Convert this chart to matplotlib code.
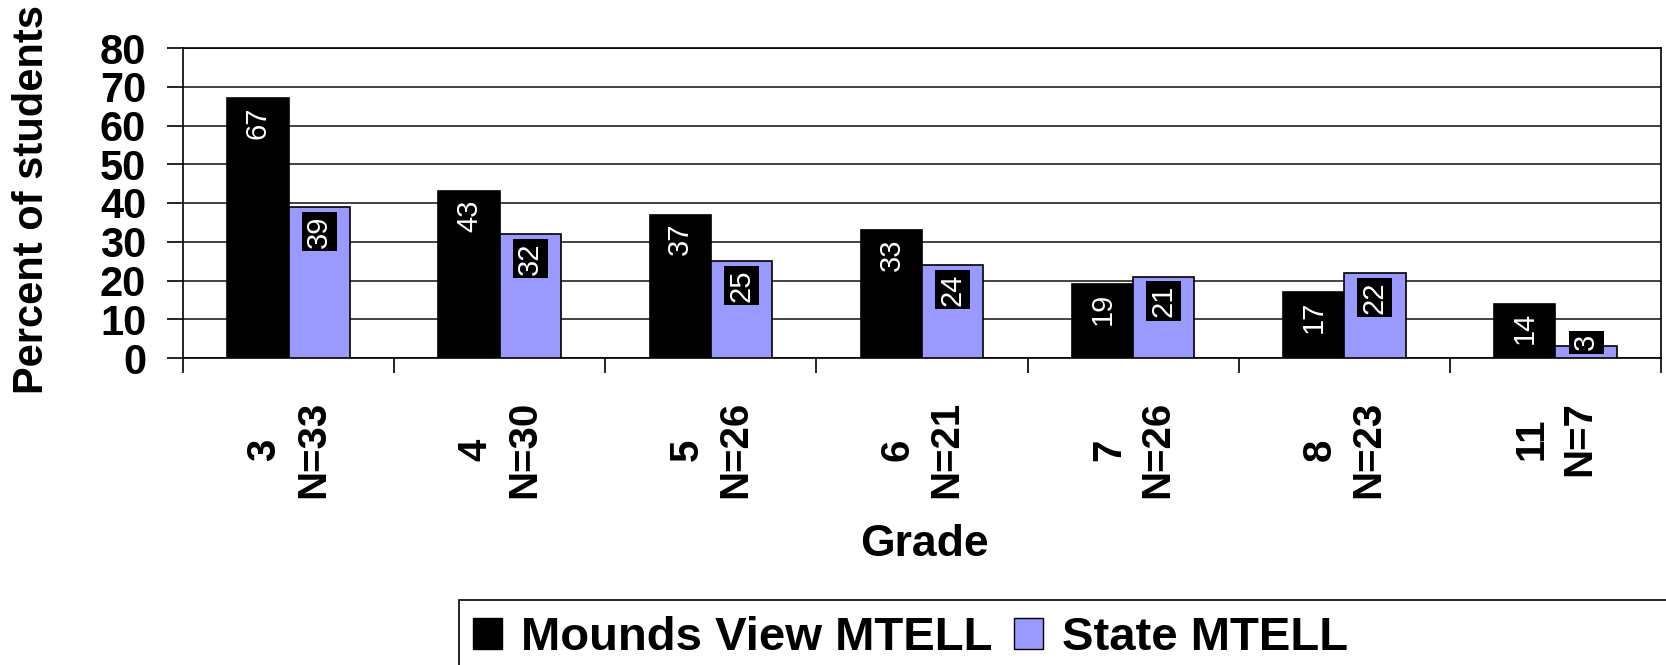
import numpy as np
import matplotlib
matplotlib.use('Agg')
import matplotlib.pyplot as plt
from matplotlib.patches import Patch, Rectangle

grades = ['3', '4', '5', '6', '7', '8', '11']
n_students = [33, 30, 26, 21, 26, 23, 7]
mounds_view = [67, 43, 37, 33, 19, 17, 14]
state = [39, 32, 25, 24, 21, 22, 3]

plt.rcParams['font.family'] = ['Liberation Sans', 'DejaVu Sans']

W, H = 1666, 665
fig = plt.figure(figsize=(W / 100, H / 100), dpi=100)
ax = fig.add_axes([183 / W, 1 - 358 / H, (1661 - 183) / W, (358 - 48) / H])

x = np.arange(len(grades))
w = 0.29
ax.bar(x - w / 2, mounds_view, w, color='black', edgecolor='black', lw=1.2, zorder=3)
ax.bar(x + w / 2, state, w, color='#9999ff', edgecolor='black', lw=1.2, zorder=3)

# value labels, white, rotated, inside the top of each bar
for xi, v in zip(x, mounds_view):
    ax.annotate(str(v), (xi - w / 2, max(v, 8.3)), xytext=(0, -6), textcoords='offset points',
                rotation=90, ha='center', va='top', color='white', fontsize=21, zorder=4)
for xi, v in zip(x, state):
    ax.annotate(str(v), (xi + w / 2, max(v, 8.3)), xytext=(0, -6), textcoords='offset points',
                rotation=90, ha='center', va='top', color='white', fontsize=21, zorder=4,
                bbox=dict(boxstyle='square,pad=0.12', fc='black', ec='none'))

ax.set_xlim(-0.5, len(grades) - 0.5)
ax.set_ylim(0, 80)
ax.set_yticks(range(0, 81, 10))
ax.set_axisbelow(True)
ax.grid(axis='y', color='#222222', lw=1.2)

ax.set_xticks(np.arange(-0.5, len(grades), 1))
ax.set_xticklabels([])
ax.set_xticks(x, minor=True)
ax.set_xticklabels([f'{g}\nN={n}' for g, n in zip(grades, n_students)], minor=True,
                   rotation=90, fontsize=29, fontweight='bold', linespacing=1.35,
                   multialignment='center')
ax.tick_params(axis='x', which='major', length=10.8, width=1.2, direction='out')
ax.tick_params(axis='x', which='minor', length=0, pad=31)
ax.tick_params(axis='y', length=11.5, width=1.2, pad=15, labelsize=30)
for lbl in ax.get_yticklabels():
    lbl.set_fontweight('bold')
for s in ax.spines.values():
    s.set_color('black')
    s.set_linewidth(1.2)

fig.text(32 / W, 1 - 200 / H, 'Percent of students', rotation=90, ha='center', va='center',
         fontsize=30, fontweight='bold')
fig.text(924 / W, 1 - 545 / H, 'Grade', ha='center', va='center', fontsize=32, fontweight='bold')

handles = [Patch(facecolor='black', edgecolor='black'),
           Patch(facecolor='#9999ff', edgecolor='black')]
fig.legend(handles, ['Mounds View MTELL', 'State MTELL'], loc='center left',
           bbox_to_anchor=(473 / W, 1 - 638 / H), ncol=2, frameon=False,
           prop={'size': 34, 'weight': 'bold'}, handlelength=0.62, handleheight=0.62,
           handletextpad=0.4, columnspacing=0.45, borderpad=0, borderaxespad=0)
fig.add_artist(Rectangle((459 / W, -0.1), 1.0, (1 - 600 / H) + 0.1, transform=fig.transFigure,
                         fill=False, ec='black', lw=1.2))

fig.savefig('out.png', dpi=100)
